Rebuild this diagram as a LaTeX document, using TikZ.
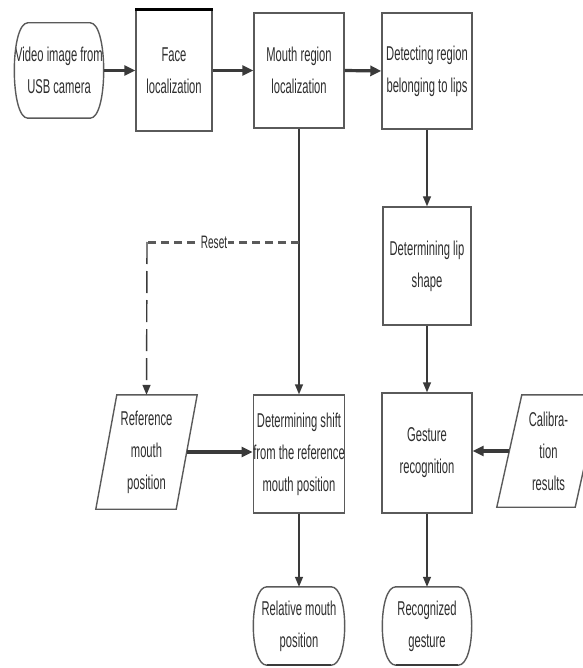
\documentclass[tikz,border=0pt]{standalone}
\usepackage{fontspec}
\setmainfont{Liberation Sans}[FakeStretch=0.56]
\usetikzlibrary{arrows.meta}
\definecolor{linec}{HTML}{5A5A5A}
\definecolor{arrc}{HTML}{3A3A3A}
\definecolor{txtc}{HTML}{2E2E2E}
\begin{document}
\begin{tikzpicture}[x=1pt,y=-1pt,
  lbl/.style={draw=none,inner sep=0pt,align=center,text=txtc,font=\fontsize{20}{32}\selectfont},
  procbox/.style={lbl,draw=linec,line width=1.4pt},
  thickarr/.style={draw=arrc,line width=3.2pt,-{Triangle[length=11pt,width=10pt]}},
  thinarr/.style={draw=arrc,line width=1.4pt,-{Triangle[length=10pt,width=8pt]}},
  outl/.style={draw=linec,line width=1.4pt}
]
\useasboundingbox (0,0) rectangle (582,668);

% nodes
\node[lbl,minimum width=90pt,minimum height=95pt] (video) at (59,70.5) {Video image from\\USB camera};
\node[procbox,minimum width=76pt,minimum height=121pt] (face) at (174,70.5) {Face\\localization};
\node[procbox,minimum width=90pt,minimum height=115pt] (mouth) at (299,70.5) {Mouth region\\localization};
\node[procbox,minimum width=90pt,minimum height=116pt] (detect) at (427,71) {Detecting region\\belonging to lips};
\node[procbox,minimum width=88pt,minimum height=118pt] (lip) at (427,266) {Determining lip\\shape};
\node[lbl,minimum width=80pt,minimum height=114pt] (ref) at (146.5,452) {Reference\\mouth\\position};
\node[procbox,minimum width=90pt,minimum height=118pt] (shift) at (299,454) {Determining shift\\from the reference\\mouth position};
\node[procbox,minimum width=90pt,minimum height=120pt] (gest) at (427,453) {Gesture\\recognition};
\node[lbl,minimum width=78pt,minimum height=112pt] (calib) at (548.5,451) {Calibra-\\tion\\results};
\node[lbl,minimum width=92pt,minimum height=78pt] (rel) at (299,626) {Relative mouth\\position};
\node[lbl,minimum width=90pt,minimum height=78pt] (recog) at (427,626) {Recognized\\gesture};

% terminal outlines
\foreach \n in {video,rel,recog}{
  \draw[outl] ([xshift=14pt]\n.north west) -- ([xshift=-14pt]\n.north east)
    .. controls ([xshift=4pt]\n.north east) and ([xshift=4pt]\n.south east) .. ([xshift=-14pt]\n.south east)
    -- ([xshift=14pt]\n.south west)
    .. controls ([xshift=-4pt]\n.south west) and ([xshift=-4pt]\n.north west) .. cycle;
}
% parallelograms
\draw[outl] ([xshift=10.5pt]ref.north west) -- ([xshift=10.5pt]ref.north east) -- ([xshift=-10.5pt]ref.south east) -- ([xshift=-10.5pt]ref.south west) -- cycle;
\draw[outl] ([xshift=12.5pt]calib.north west) -- ([xshift=12.5pt]calib.north east) -- ([xshift=-12.5pt]calib.south east) -- ([xshift=-12.5pt]calib.south west) -- cycle;

% edge artifacts
\draw[black,line width=3pt] (face.north west) -- (face.north east);
\draw[arrc,line width=2.5pt] ([xshift=14pt]rel.south west) -- ([xshift=-14pt]rel.south east);
\draw[arrc,line width=2.5pt] ([xshift=14pt]recog.south west) -- ([xshift=-14pt]recog.south east);

% connectors
\draw[thickarr] (video.east) -- (face.west);
\draw[thickarr] (face.east) -- (mouth.west);
\draw[thickarr] (mouth.east) -- (detect.west);
\draw[thinarr] (mouth.south) -- (shift.north);
\draw[thinarr] (detect.south) -- (lip.north);
\draw[thinarr] (lip.south) -- (gest.north);
\draw[thickarr] (ref.east) -- (ref.east -| shift.west);
\draw[thickarr] (calib.west) -- (calib.west -| gest.east);
\draw[thinarr] (shift.south) -- (rel.north);
\draw[thinarr] (gest.south) -- (recog.north);

% reset
\coordinate (rs) at (299,242);
\coordinate (rc) at (147,242);
\draw[draw=linec,line width=3pt,dash pattern=on 8pt off 5pt] (rs) -- (rc);
\draw[draw=arrc,line width=1.4pt,dash pattern=on 22pt off 7pt,-{Triangle[length=10pt,width=8pt]}] (rc) -- (ref.north);
\node[lbl,fill=white,inner sep=1pt,font=\fontsize{18}{20}\selectfont] (reset) at (214,242) {Reset};
\end{tikzpicture}
\end{document}
